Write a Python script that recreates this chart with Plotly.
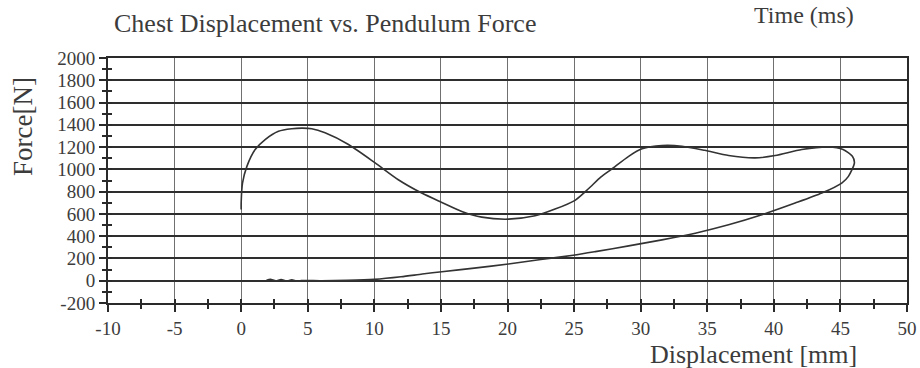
import plotly.graph_objects as go

# Pendulum impact: chest displacement (mm) against pendulum force (N),
# loading branch first, then the unloading branch back towards zero.
disp_mm = [
    0.0, 0.0, 0.1, 0.43, 1.05, 1.8, 2.8, 3.8, 4.6, 5.3, 6.3, 8.06, 10.06,
    11.8, 13.56, 15.07, 16.57, 18.07, 20.07, 22.07, 23.57, 25.07, 26.1,
    27.0, 27.8, 29.1, 30.1, 31.6, 33.1, 34.8, 36.6, 38.6, 40.1, 42.1,
    44.1, 45.2, 45.9, 46.05, 45.6, 45.1, 43.6, 41.6, 39.1, 36.6, 34.1,
    31.6, 29.1, 26.6, 25.07, 22.5, 20.07, 17.5, 15.07, 13.6, 12.0, 10.0,
    8.0, 6.0, 4.5, 4.2, 3.8, 3.4, 3.0, 2.6, 2.2, 1.9,
]
force_n = [
    640, 700, 877, 1027, 1178, 1268, 1342, 1365, 1370, 1365, 1328, 1223,
    1058, 907, 787, 703, 622, 571, 553, 583, 643, 722, 828,
    930, 1000, 1117, 1184, 1214, 1208, 1171, 1124, 1103, 1124, 1178,
    1202, 1178, 1117, 1058, 937, 877, 787, 697, 592, 502, 427,
    367, 313, 261, 231, 190, 150, 113, 81, 60, 35, 12,
    3, 0, 2, -5, 8, -3, 10, 0, 12, 5,
]

# axis ticks and their printed labels (plain hyphen for negatives)
x_ticks = [-10, -5, 0, 5, 10, 15, 20, 25, 30, 35, 40, 45, 50]
x_tick_labels = ["-10", "-5", "0", "5", "10", "15", "20", "25", "30",
                 "35", "40", "45", "50"]
y_ticks = [-200, 0, 200, 400, 600, 800, 1000, 1200, 1400, 1600, 1800, 2000]
y_tick_labels = ["-200", "0", "200", "400", "600", "800", "1000", "1200",
                 "1400", "1600", "1800", "2000"]

x_range = [-10, 50]
y_range = [-200, 2000]

ink = "#333333"
text_col = "#3c3c3c"
serif = "Liberation Serif"

fig = go.Figure()
fig.add_trace(go.Scatter(
    x=disp_mm, y=force_n, mode="lines",
    line=dict(color=ink, width=1.6, shape="spline", smoothing=0.7),
    showlegend=False, hoverinfo="skip",
))
# empty trace so the overlaid tick-only axes get drawn
fig.add_trace(go.Scatter(x=[], y=[], xaxis="x2", yaxis="y2",
                         showlegend=False, hoverinfo="skip"))

W, H = 920, 368
ml, mr, mt, mb = 108, 13, 58, 65
pw, ph = W - ml - mr, H - mt - mb


def px(xp):
    return (xp - ml) / pw


def py(yp):
    return (H - mb - yp) / ph


fig.update_layout(
    width=W, height=H,
    margin=dict(l=ml, r=mr, t=mt, b=mb, autoexpand=False),
    paper_bgcolor="white", plot_bgcolor="white",
    font=dict(family=serif, color=text_col),
    xaxis=dict(
        range=x_range, tickmode="array", tickvals=x_ticks,
        ticktext=x_tick_labels,
        showgrid=True, gridcolor="#707070", gridwidth=1,
        showline=True, linecolor="#2a2a2a", linewidth=2, mirror=True,
        ticks="outside", ticklen=7, tickwidth=2, tickcolor="#2a2a2a",
        tickfont=dict(size=19, color=text_col),
        minor=dict(dtick=2.5, tick0=-10, ticks="outside", ticklen=4,
                   tickwidth=1.5, tickcolor="#2a2a2a", showgrid=False),
        zeroline=False, fixedrange=True,
    ),
    yaxis=dict(
        range=y_range, tickmode="array", tickvals=y_ticks,
        ticktext=y_tick_labels,
        showgrid=True, gridcolor="#2e2e2e", gridwidth=1.5,
        showline=True, linecolor="#2a2a2a", linewidth=2, mirror=True,
        ticks="outside", ticklen=7, tickwidth=2, tickcolor="#2a2a2a",
        tickfont=dict(size=19, color=text_col),
        minor=dict(dtick=100, tick0=-200, ticks="outside", ticklen=4,
                   tickwidth=1.5, tickcolor="#2a2a2a", showgrid=False),
        zeroline=False, fixedrange=True,
    ),
    xaxis2=dict(
        overlaying="x", anchor="y2", side="bottom", range=x_range,
        tick0=-10, dtick=5, showgrid=False, showline=False,
        showticklabels=False, zeroline=False,
        ticks="inside", ticklen=4, tickwidth=1.5, tickcolor="#2a2a2a",
        minor=dict(dtick=2.5, tick0=-10, ticks="inside", ticklen=4,
                   tickwidth=1.5, tickcolor="#2a2a2a"),
        fixedrange=True,
    ),
    yaxis2=dict(
        overlaying="y", anchor="x2", side="left", range=y_range,
        tick0=-200, dtick=200, showgrid=False, showline=False,
        showticklabels=False, zeroline=False,
        ticks="inside", ticklen=4, tickwidth=1.5, tickcolor="#2a2a2a",
        minor=dict(dtick=100, tick0=-200, ticks="inside", ticklen=4,
                   tickwidth=1.5, tickcolor="#2a2a2a"),
        fixedrange=True,
    ),
    annotations=[
        dict(text="Chest Displacement vs. Pendulum Force",
             xref="paper", yref="paper", x=px(112), y=py(23),
             xanchor="left", yanchor="middle", showarrow=False,
             font=dict(size=26, family=serif, color=text_col)),
        dict(text="Time (ms)",
             xref="paper", yref="paper", x=px(752), y=py(15),
             xanchor="left", yanchor="middle", showarrow=False,
             font=dict(size=24, family=serif, color=text_col)),
        dict(text="Displacement [mm]",
             xref="paper", yref="paper", x=px(753), y=py(354),
             xanchor="center", yanchor="middle", showarrow=False,
             font=dict(size=26, family=serif, color=text_col)),
        dict(text="Force[N]", textangle=-90,
             xref="paper", yref="paper", x=px(23), y=py(127),
             xanchor="center", yanchor="middle", showarrow=False,
             font=dict(size=27, family=serif, color=text_col)),
    ],
)

fig.write_html("out.html")
